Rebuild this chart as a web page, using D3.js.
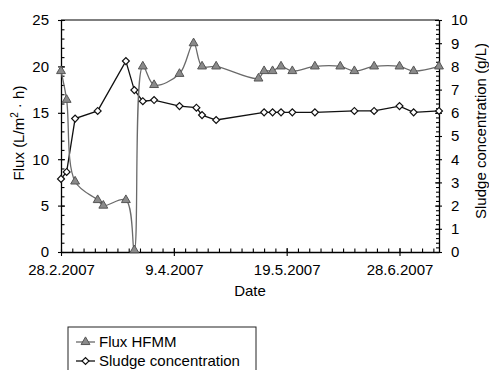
<!DOCTYPE html>
<html>
<head>
<meta charset="utf-8">
<script src="https://cdn.jsdelivr.net/npm/d3@7"></script>
<style>
  body { margin: 0; background: #fff; }
  text { font-family: "Liberation Sans", Arial, sans-serif; fill: #000; }
</style>
</head>
<body>
<div id="chart"></div>
<script>
// data
const fluxDates = ["2007-02-28", "2007-03-02", "2007-03-05", "2007-03-13", "2007-03-15", "2007-03-23",
    "2007-03-26", "2007-03-29", "2007-04-02", "2007-04-11", "2007-04-16", "2007-04-19", "2007-04-24",
    "2007-05-09", "2007-05-11", "2007-05-14", "2007-05-17", "2007-05-21", "2007-05-29", "2007-06-07",
    "2007-06-12", "2007-06-19", "2007-06-28", "2007-07-03", "2007-07-12"];
const fluxValues = [19.5, 16.4, 7.6, 5.6, 5.0, 5.6, 0.2, 20.0, 18.0, 19.2, 22.5, 20.0, 20.0,
    18.7, 19.5, 19.5, 20.0, 19.5, 20.0, 20.0, 19.5, 20.0, 20.0, 19.5, 20.0];

const sludgeDates = ["2007-02-28", "2007-03-02", "2007-03-05", "2007-03-13", "2007-03-23", "2007-03-26",
    "2007-03-29", "2007-04-02", "2007-04-11", "2007-04-17", "2007-04-19", "2007-04-24", "2007-05-11",
    "2007-05-14", "2007-05-17", "2007-05-21", "2007-05-29", "2007-06-12", "2007-06-19", "2007-06-28",
    "2007-07-03", "2007-07-12"];
const sludgeValues = [3.15, 3.45, 5.75, 6.08, 8.23, 6.98, 6.5, 6.55, 6.29, 6.22, 5.9, 5.69, 6.02,
    6.02, 6.02, 6.02, 6.02, 6.08, 6.08, 6.29, 6.02, 6.08];

const xTickLabels = ["28.2.2007", "9.4.2007", "19.5.2007", "28.6.2007"];
const leftTicks = [0, 5, 10, 15, 20, 25];
const rightTicks = [0, 1, 2, 3, 4, 5, 6, 7, 8, 9, 10];

const width = 489, height = 370;
const pLeft = 61, pRight = 439, pTop = 20, pBottom = 252;

const parse = d3.timeParse("%Y-%m-%d");
const parseTick = d3.timeParse("%d.%m.%Y");
const fmt = d => `${d.getDate()}.${d.getMonth() + 1}.${d.getFullYear()}`;

const flux = fluxDates.map((d, i) => ({ date: parse(d), value: fluxValues[i] }));
const sludge = sludgeDates.map((d, i) => ({ date: parse(d), value: sludgeValues[i] }));

const x = d3.scaleTime()
    .domain([parse("2007-02-28"), parse("2007-07-12")])
    .range([pLeft, pRight]);
const y = d3.scaleLinear().domain([0, 25]).range([pBottom, pTop]);
const y2 = d3.scaleLinear().domain([0, 10]).range([pBottom, pTop]);

const svg = d3.select("#chart")
    .append("svg")
    .attr("width", width)
    .attr("height", height);

// frame top line
svg.append("line")
    .attr("x1", pLeft).attr("x2", pRight)
    .attr("y1", pTop).attr("y2", pTop)
    .attr("stroke", "#555").attr("stroke-width", 1.3);

// ---- x axis
const majorDates = xTickLabels.map(parseTick);
const minorDates = d3.timeDay.range(x.domain()[0], x.domain()[1], 1).filter((d, i) => i % 4 === 0);

svg.append("g")
    .attr("transform", `translate(0,${pBottom})`)
    .call(d3.axisTop(x).tickValues(minorDates).tickSize(3.5).tickFormat(""))
    .call(g => g.select(".domain").remove());

svg.append("g")
    .attr("transform", `translate(0,${pBottom})`)
    .call(d3.axisBottom(x).tickValues(majorDates).tickSize(4).tickSizeOuter(0).tickPadding(8).tickFormat(fmt))
    .call(g => g.select(".domain").attr("stroke-width", 1.3))
    .call(g => g.selectAll("text").attr("font-size", 15).attr("font-family", null));

// ---- left axis
svg.append("g")
    .attr("transform", `translate(${pLeft},0)`)
    .call(d3.axisRight(y).ticks(25).tickSize(3.5).tickFormat(""))
    .call(g => g.select(".domain").remove());

svg.append("g")
    .attr("transform", `translate(${pLeft},0)`)
    .call(d3.axisLeft(y).tickValues(leftTicks).tickSize(3).tickSizeOuter(0).tickPadding(9))
    .call(g => g.select(".domain").attr("stroke-width", 1.3))
    .call(g => g.selectAll("text").attr("font-size", 15).attr("font-family", null));

// ---- right axis
svg.append("g")
    .attr("transform", `translate(${pRight},0)`)
    .call(d3.axisLeft(y2).ticks(50).tickSize(3).tickFormat(""))
    .call(g => g.select(".domain").remove());

svg.append("g")
    .attr("transform", `translate(${pRight},0)`)
    .call(d3.axisRight(y2).tickValues(rightTicks).tickSize(3).tickSizeOuter(0).tickPadding(9))
    .call(g => g.select(".domain").attr("stroke-width", 1.3))
    .call(g => g.selectAll("text").attr("font-size", 15).attr("font-family", null));

svg.selectAll(".tick line").attr("stroke-width", 1.1);
// major ticks cross the axis
svg.append("g")
    .attr("transform", `translate(${pLeft},0)`)
    .call(d3.axisRight(y).tickValues(leftTicks).tickSize(4).tickFormat(""))
    .call(g => g.select(".domain").remove());
svg.append("g")
    .attr("transform", `translate(${pRight},0)`)
    .call(d3.axisLeft(y2).tickValues(rightTicks).tickSize(4).tickFormat(""))
    .call(g => g.select(".domain").remove());
svg.append("g")
    .attr("transform", `translate(0,${pBottom})`)
    .call(d3.axisTop(x).tickValues(majorDates).tickSize(4).tickFormat(""))
    .call(g => g.select(".domain").remove());

// ---- axis titles
svg.append("text")
    .attr("x", (pLeft + pRight) / 2).attr("y", 296)
    .attr("text-anchor", "middle").attr("font-size", 15)
    .text("Date");

const fluxTitle = svg.append("text")
    .attr("transform", `translate(24,${(pTop + pBottom) / 2 - 3}) rotate(-90)`)
    .attr("text-anchor", "middle").attr("font-size", 15);
fluxTitle.append("tspan").text("Flux (L/m");
fluxTitle.append("tspan").attr("dy", -6).attr("font-size", 10).text("2");
fluxTitle.append("tspan").attr("dy", 6).text(" \u00B7 h)");

svg.append("text")
    .attr("transform", `translate(486,${(pTop + pBottom) / 2 - 5}) rotate(-90)`)
    .attr("text-anchor", "middle").attr("font-size", 15)
    .text("Sludge concentration (g/L)");

// ---- series
const fluxLine = d3.line()
    .x(d => x(d.date)).y(d => y(d.value))
    .curve(d3.curveCatmullRom.alpha(0.5));
const sludgeLine = d3.line()
    .x(d => x(d.date)).y(d => y2(d.value));

const triangle = d3.symbol().type(d3.symbolTriangle).size(34);
const diamond = d3.symbol().type(d3.symbolSquare).size(24);

svg.append("path")
    .datum(sludge)
    .attr("d", sludgeLine)
    .attr("fill", "none").attr("stroke", "#111").attr("stroke-width", 1.3);

svg.append("path")
    .datum(flux)
    .attr("d", fluxLine)
    .attr("fill", "none").attr("stroke", "#6a6a6a").attr("stroke-width", 1.3);

svg.append("g").selectAll("path")
    .data(sludge)
    .enter().append("path")
    .attr("d", diamond)
    .attr("transform", d => `translate(${x(d.date)},${y2(d.value)}) rotate(45)`)
    .attr("fill", "#fff").attr("stroke", "#111").attr("stroke-width", 1.2);

svg.append("g").selectAll("path")
    .data(flux)
    .enter().append("path")
    .attr("d", triangle)
    .attr("transform", d => `translate(${x(d.date)},${y(d.value)})`)
    .attr("fill", "#8a8a8a").attr("stroke", "#555").attr("stroke-width", 1);

// ---- legend
const legend = svg.append("g").attr("transform", "translate(68,327)");
legend.append("rect")
    .attr("width", 188).attr("height", 60)
    .attr("fill", "#fff").attr("stroke", "#222").attr("stroke-width", 1);

legend.append("line")
    .attr("x1", 8).attr("x2", 27).attr("y1", 15).attr("y2", 15)
    .attr("stroke", "#6a6a6a").attr("stroke-width", 1.3);
legend.append("path")
    .attr("d", triangle)
    .attr("transform", "translate(17.5,15)")
    .attr("fill", "#8a8a8a").attr("stroke", "#555");
legend.append("text")
    .attr("x", 31).attr("y", 20).attr("font-size", 15)
    .text("Flux HFMM");

legend.append("line")
    .attr("x1", 8).attr("x2", 27).attr("y1", 34).attr("y2", 34)
    .attr("stroke", "#111").attr("stroke-width", 1.3);
legend.append("path")
    .attr("d", diamond)
    .attr("transform", "translate(17.5,34) rotate(45)")
    .attr("fill", "#fff").attr("stroke", "#111").attr("stroke-width", 1.2);
legend.append("text")
    .attr("x", 31).attr("y", 39).attr("font-size", 15)
    .text("Sludge concentration");
</script>
</body>
</html>
